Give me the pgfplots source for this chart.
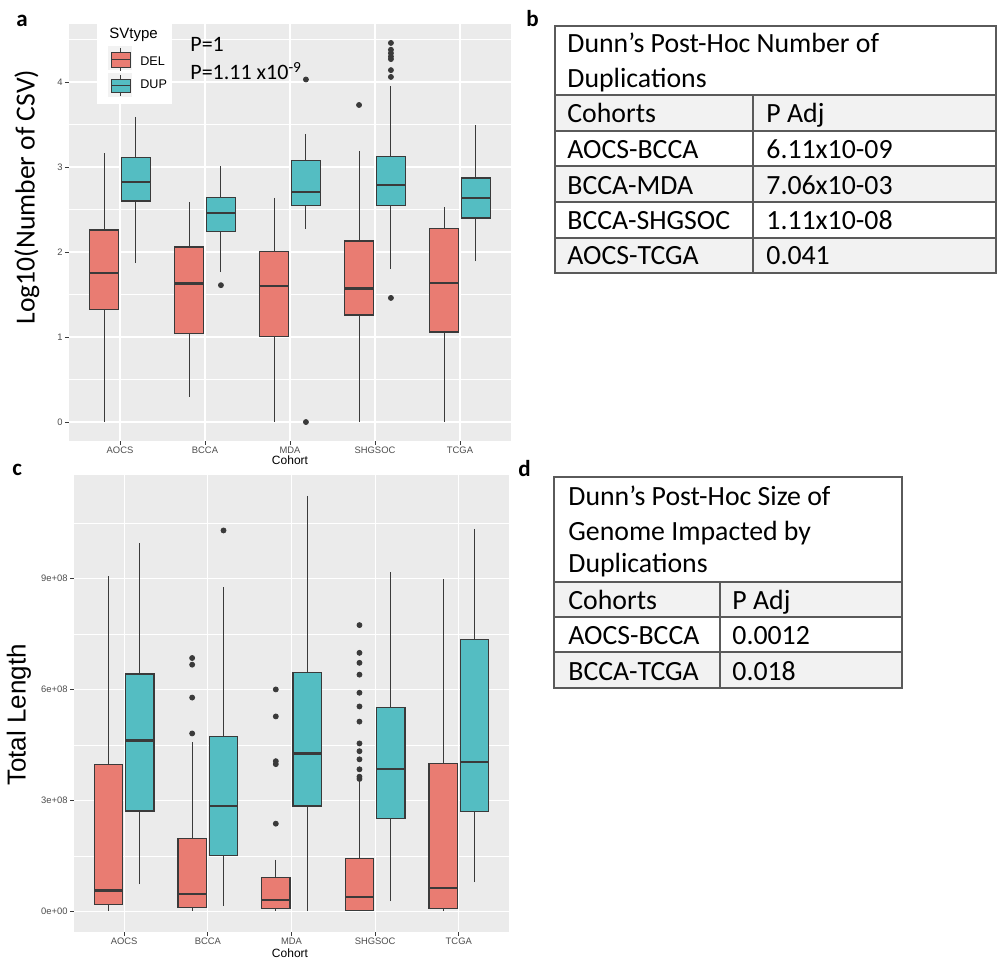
\documentclass[border=0pt]{standalone}
\usepackage{pgfplots}
\pgfplotsset{compat=1.18}
\usepgfplotslibrary{statistics}
\usepackage{fontspec}
\setmainfont{Carlito}
\newfontfamily\arial{Liberation Sans}

\definecolor{ggbg}{RGB}{235,235,235}
\definecolor{delfill}{RGB}{233,124,114}
\definecolor{dupfill}{RGB}{84,189,194}
\definecolor{boxline}{RGB}{58,58,58}
\definecolor{ticktext}{RGB}{77,77,77}
\definecolor{tabline}{RGB}{90,90,90}
\definecolor{tabshade}{RGB}{242,242,242}
\definecolor{keybg}{RGB}{242,242,242}

\pgfplotsset{
  ggpanel/.style={
    scale only axis,
    anchor=south west,
    axis background/.style={fill=ggbg},
    axis line style={draw=none},
    grid=both,
    major grid style={white, line width=0.6pt},
    minor grid style={white, line width=0.3pt},
    tick pos=left,
    tick align=outside,
    major tick length=2pt,
    minor tick length=0pt,
    every tick/.style={boxline, line width=0.4pt},
    xtick={1,2,3,4,5},
    xticklabels={AOCS,BCCA,MDA,SHGSOC,TCGA},
    xmin=0.4, xmax=5.6,
    tick label style={font=\arial\fontsize{4.7}{5}\selectfont, text=ticktext, inner sep=1pt},
    /pgf/number format/assume math mode=true,
    boxplot/draw direction=y,
    boxplot/box extend=0.3375,
    boxplot/whisker extend=0,
    boxplot/every box/.style={line width=0.6pt},
    boxplot/every whisker/.style={line width=0.5pt},
    boxplot/every median/.style={line width=1.1pt},
  },
  del/.style={fill=delfill, draw=boxline, mark=none},
  dup/.style={fill=dupfill, draw=boxline, mark=none},
  outl/.style={only marks, mark=*, mark size=1.25pt, mark options={fill=boxline, draw=boxline}},
}

\begin{document}
\begin{tikzpicture}
\path[use as bounding box] (0pt,0pt) rectangle (498.5pt,479.5pt);

% ---------- a: log10 number of CSVs by cohort ----------
\begin{axis}[ggpanel,
  at={(34.5pt,259pt)}, width=221pt, height=208.5pt,
  ymin=-0.223, ymax=4.683,
  ytick={0,1,2,3,4},
  minor ytick={0.5,1.5,2.5,3.5,4.5},
]
% AOCS
\addplot[del, boxplot prepared={draw position=0.8125, lower whisker=0, lower quartile=1.32, median=1.75, upper quartile=2.26, upper whisker=3.16}] coordinates {};
\addplot[dup, boxplot prepared={draw position=1.1875, lower whisker=1.87, lower quartile=2.60, median=2.82, upper quartile=3.11, upper whisker=3.59}] coordinates {};
% BCCA
\addplot[del, boxplot prepared={draw position=1.8125, lower whisker=0.30, lower quartile=1.04, median=1.63, upper quartile=2.06, upper whisker=2.59}] coordinates {};
\addplot[dup, boxplot prepared={draw position=2.1875, lower whisker=1.76, lower quartile=2.24, median=2.46, upper quartile=2.64, upper whisker=3.01}] coordinates {};
% MDA
\addplot[del, boxplot prepared={draw position=2.8125, lower whisker=0, lower quartile=1.01, median=1.60, upper quartile=2.01, upper whisker=2.64}] coordinates {};
\addplot[dup, boxplot prepared={draw position=3.1875, lower whisker=2.27, lower quartile=2.55, median=2.71, upper quartile=3.08, upper whisker=3.39}] coordinates {};
% SHGSOC
\addplot[del, boxplot prepared={draw position=3.8125, lower whisker=0, lower quartile=1.26, median=1.57, upper quartile=2.13, upper whisker=3.19}] coordinates {};
\addplot[dup, boxplot prepared={draw position=4.1875, lower whisker=1.80, lower quartile=2.55, median=2.79, upper quartile=3.12, upper whisker=3.95}] coordinates {};
% TCGA
\addplot[del, boxplot prepared={draw position=4.8125, lower whisker=0, lower quartile=1.06, median=1.64, upper quartile=2.28, upper whisker=2.53}] coordinates {};
\addplot[dup, boxplot prepared={draw position=5.1875, lower whisker=1.89, lower quartile=2.40, median=2.64, upper quartile=2.87, upper whisker=3.49}] coordinates {};
% outliers
\addplot[outl] coordinates {
  (2.1875,1.61)
  (3.1875,4.03) (3.1875,0)
  (3.8125,3.73)
  (4.1875,1.46) (4.1875,4.06) (4.1875,4.14) (4.1875,4.27) (4.1875,4.30)
  (4.1875,4.34) (4.1875,4.38) (4.1875,4.46)
};
\end{axis}

% ---------- c: total length by cohort (units of 1e8) ----------
\begin{axis}[ggpanel,
  at={(37pt,13.5pt)}, width=217.5pt, height=228.5pt,
  ymin=-0.56, ymax=11.80,
  ytick={0,3,6,9},
  yticklabels={0e+00,3e+08,6e+08,9e+08},
  minor ytick={1.5,4.5,7.5,10.5},
]
% AOCS
\addplot[del, boxplot prepared={draw position=0.8125, lower whisker=0, lower quartile=0.19, median=0.56, upper quartile=3.98, upper whisker=9.06}] coordinates {};
\addplot[dup, boxplot prepared={draw position=1.1875, lower whisker=0.73, lower quartile=2.71, median=4.62, upper quartile=6.42, upper whisker=9.95}] coordinates {};
% BCCA
\addplot[del, boxplot prepared={draw position=1.8125, lower whisker=0.02, lower quartile=0.11, median=0.46, upper quartile=1.96, upper whisker=4.57}] coordinates {};
\addplot[dup, boxplot prepared={draw position=2.1875, lower whisker=0.14, lower quartile=1.51, median=2.85, upper quartile=4.73, upper whisker=8.77}] coordinates {};
% MDA
\addplot[del, boxplot prepared={draw position=2.8125, lower whisker=0.01, lower quartile=0.08, median=0.30, upper quartile=0.91, upper whisker=1.40}] coordinates {};
\addplot[dup, boxplot prepared={draw position=3.1875, lower whisker=0, lower quartile=2.85, median=4.27, upper quartile=6.45, upper whisker=11.24}] coordinates {};
% SHGSOC
\addplot[del, boxplot prepared={draw position=3.8125, lower whisker=0, lower quartile=0.03, median=0.38, upper quartile=1.42, upper whisker=3.52}] coordinates {};
\addplot[dup, boxplot prepared={draw position=4.1875, lower whisker=0.27, lower quartile=2.50, median=3.84, upper quartile=5.51, upper whisker=9.17}] coordinates {};
% TCGA
\addplot[del, boxplot prepared={draw position=4.8125, lower whisker=0, lower quartile=0.08, median=0.62, upper quartile=4.00, upper whisker=9.00}] coordinates {};
\addplot[dup, boxplot prepared={draw position=5.1875, lower whisker=0.78, lower quartile=2.69, median=4.03, upper quartile=7.34, upper whisker=10.35}] coordinates {};
% outliers
\addplot[outl] coordinates {
  (1.8125,4.81) (1.8125,5.78) (1.8125,6.67) (1.8125,6.85)
  (2.1875,10.30)
  (2.8125,2.37) (2.8125,3.98) (2.8125,4.06) (2.8125,5.27) (2.8125,6.00)
  (3.8125,3.58) (3.8125,3.64) (3.8125,3.84) (3.8125,4.11) (3.8125,4.33)
  (3.8125,4.54) (3.8125,5.13) (3.8125,5.54) (3.8125,5.91) (3.8125,6.40)
  (3.8125,6.72) (3.8125,6.99) (3.8125,7.74)
};
\end{axis}

% ---------- labels, legend and tables (pixel-style coordinates from the top left) ----------
\begin{scope}[shift={(0pt,479.5pt)}, x=0.5pt, y=-0.5pt]
  % panel letters
  \node[anchor=base west, inner sep=0pt, font=\bfseries\fontsize{11.5}{12}\selectfont] at (16,27) {a};
  \node[anchor=base west, inner sep=0pt, font=\bfseries\fontsize{11.5}{12}\selectfont] at (526,27) {b};
  \node[anchor=base west, inner sep=0pt, font=\bfseries\fontsize{11.5}{12}\selectfont] at (12,476) {c};
  \node[anchor=base west, inner sep=0pt, font=\bfseries\fontsize{11.5}{12}\selectfont] at (518,477) {d};

  % axis titles
  \node[rotate=90, inner sep=0pt, font=\fontsize{13.8}{14}\selectfont] at (27,197) {Log10(Number of CSV)};
  \node[rotate=90, inner sep=0pt, font=\arial\fontsize{13}{14}\selectfont] at (19,715) {Total Length};
  \node[inner sep=0pt, font=\arial\fontsize{6}{7}\selectfont] at (290,460) {Cohort};
  \node[inner sep=0pt, font=\arial\fontsize{6}{7}\selectfont] at (290,953) {Cohort};

  % P values
  \node[anchor=base west, inner sep=0pt, font=\fontsize{11}{12}\selectfont] at (190,52) {P=1};
  \node[anchor=base west, inner sep=0pt, font=\fontsize{11}{12}\selectfont] at (190,80) {P=1.11 x10\textsuperscript{-9}};

  % legend
  \fill[white] (97,24) rectangle (172,104);
  \node[anchor=base west, inner sep=0pt, font=\arial\fontsize{7.5}{8}\selectfont] at (109,39) {SVtype};
  \fill[keybg] (108,46) rectangle (132,70);
  \draw[boxline, line width=0.35pt] (120,48) -- (120,52) (120,67) -- (120,71);
  \filldraw[fill=delfill, draw=boxline, line width=0.45pt] (111,52) rectangle (130,67);
  \draw[boxline, line width=0.8pt] (111,59.5) -- (130,59.5);
  \node[anchor=base west, inner sep=0pt, font=\arial\fontsize{6.3}{7}\selectfont] at (140,66) {DEL};
  \fill[keybg] (108,73) rectangle (132,97);
  \draw[boxline, line width=0.35pt] (120,75) -- (120,79) (120,92) -- (120,96);
  \filldraw[fill=dupfill, draw=boxline, line width=0.45pt] (111,79) rectangle (130,92);
  \draw[boxline, line width=0.8pt] (111,85.5) -- (130,85.5);
  \node[anchor=base west, inner sep=0pt, font=\arial\fontsize{6.3}{7}\selectfont] at (140,89) {DUP};

  % table b
  \fill[tabshade] (555,95) rectangle (996,131);
  \fill[tabshade] (555,166) rectangle (996,202);
  \fill[tabshade] (555,238) rectangle (996,273);
  \draw[tabline, line width=0.6pt] (555,26) rectangle (996,273);
  \draw[tabline, line width=0.6pt] (555,95) -- (996,95) (555,131) -- (996,131)
    (555,166) -- (996,166) (555,202) -- (996,202) (555,238) -- (996,238)
    (753,95) -- (753,273);
  \begin{scope}[every node/.style={anchor=base west, inner sep=0pt, font=\fontsize{13.9}{16}\selectfont}]
    \node at (567,53) {Dunn’s Post-Hoc Number of};
    \node at (567,88) {Duplications};
    \node at (567,123) {Cohorts};      \node at (766,123) {P Adj};
    \node at (567,159) {AOCS-BCCA};    \node at (766,159) {6.11x10-09};
    \node at (567,195) {BCCA-MDA};     \node at (766,195) {7.06x10-03};
    \node at (567,230) {BCCA-SHGSOC};  \node at (766,230) {1.11x10-08};
    \node at (567,265) {AOCS-TCGA};    \node at (766,265) {0.041};
  \end{scope}

  % table d
  \fill[tabshade] (554,582) rectangle (902,617);
  \fill[tabshade] (554,652) rectangle (902,688);
  \draw[tabline, line width=0.6pt] (554,477) rectangle (902,688);
  \draw[tabline, line width=0.6pt] (554,582) -- (902,582) (554,617) -- (902,617)
    (554,652) -- (902,652) (720,582) -- (720,688);
  \begin{scope}[every node/.style={anchor=base west, inner sep=0pt, font=\fontsize{13.9}{16}\selectfont}]
    \node at (568,506) {Dunn’s Post-Hoc Size of};
    \node at (568,541) {Genome Impacted by};
    \node at (568,573) {Duplications};
    \node at (568,610) {Cohorts};      \node at (732,610) {P Adj};
    \node at (568,645) {AOCS-BCCA};    \node at (732,645) {0.0012};
    \node at (568,681) {BCCA-TCGA};    \node at (732,681) {0.018};
  \end{scope}
\end{scope}
\end{tikzpicture}
\end{document}
